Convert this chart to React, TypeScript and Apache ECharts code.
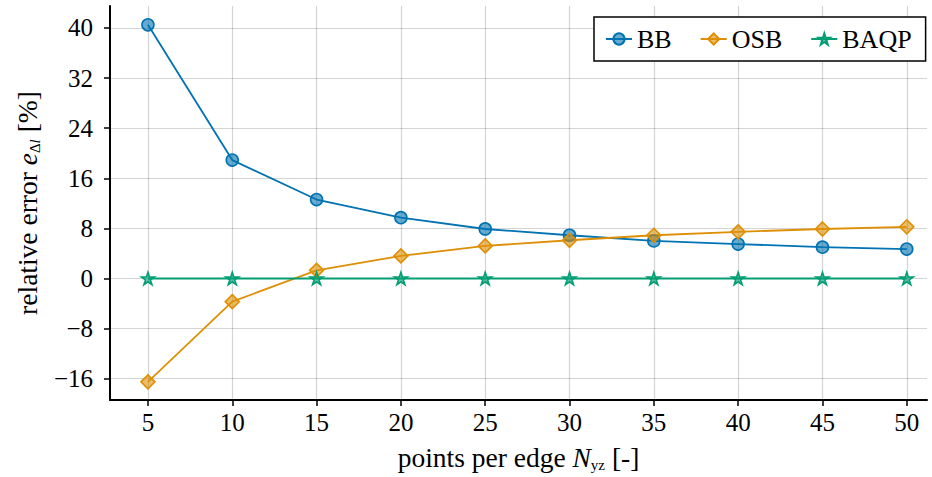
import React, { useEffect, useRef } from "react";
import * as echarts from "echarts";

const nValues = [5, 10, 15, 20, 25, 30, 35, 40, 45, 50];
const bbValues = [40.5, 18.9, 12.6, 9.7, 7.9, 6.9, 6.0, 5.5, 5.0, 4.7];
const osbValues = [-16.5, -3.7, 1.3, 3.6, 5.2, 6.1, 6.9, 7.45, 7.9, 8.25];
const baqpValues = [0, 0, 0, 0, 0, 0, 0, 0, 0, 0];
const yTicks = [-16, -8, 0, 8, 16, 24, 32, 40];
const xTicks = [5, 10, 15, 20, 25, 30, 35, 40, 45, 50];

const FONT = "'Liberation Serif', 'DejaVu Serif', serif";
const STAR =
  "path://M100 0 L122.45 69.1 L195.1 69.1 L136.33 111.8 L158.8 180.9 L100 138.2 L41.2 180.9 L63.67 111.8 L4.9 69.1 L77.55 69.1 Z";

const fmt = (v: number) => (v < 0 ? "\u2212" + Math.abs(v) : String(v));

export default function App() {
  const ref = useRef<HTMLDivElement>(null);
  useEffect(() => {
    if (!ref.current) return;
    const chart = echarts.init(ref.current, null, { renderer: "svg" });
    const mk = (name: string, data: number[], color: string, fill: string, symbol: string, size: number) => ({
      name,
      type: "line",
      data: nValues.map((n, i) => [n, data[i]]),
      symbol,
      symbolSize: size,
      symbolKeepAspect: true,
      showSymbol: true,
      showAllSymbol: true,
      lineStyle: { color, width: 1.8 },
      itemStyle: { color: fill, borderColor: color, borderWidth: 1.6 },
      emphasis: { disabled: true },
    });
    const axisNameRich = {
      n: { fontFamily: FONT, fontSize: 27.5, color: "#000", lineHeight: 30, verticalAlign: "middle" },
      i: { fontFamily: FONT, fontSize: 27.5, fontStyle: "italic", color: "#000", lineHeight: 30, verticalAlign: "middle" },
      s: { fontFamily: FONT, fontSize: 15, color: "#000", lineHeight: 15, verticalAlign: "bottom" },
      si: { fontFamily: FONT, fontSize: 15, fontStyle: "italic", color: "#000", lineHeight: 15, verticalAlign: "bottom" },
    };
    chart.setOption({
      animation: false,
      backgroundColor: "#fff",
      grid: { left: 110, top: 6, right: 5, bottom: 77, containLabel: false },
      legend: {
        left: 594,
        top: 17,
        padding: [9, 14, 9, 11],
        itemGap: 28,
        itemWidth: 26,
        itemHeight: 14,
        borderColor: "#000",
        borderWidth: 1.5,
        borderRadius: 0,
        backgroundColor: "#fff",
        textStyle: { fontFamily: FONT, fontSize: 26, color: "#000" },
        data: ["BB", "OSB", "BAQP"],
      },
      xAxis: {
        type: "value",
        min: 2.75,
        max: 51.2,
        name: "{n|points per edge }{i|N}{s|yz}{n| [-]}",
        nameLocation: "middle",
        nameGap: 42,
        nameTextStyle: { rich: axisNameRich },
        axisLine: { show: true, onZero: false, lineStyle: { color: "#000", width: 2 } },
        axisTick: { show: true, inside: false, length: 6, lineStyle: { color: "#000", width: 1.5 }, customValues: xTicks },
        axisLabel: { fontFamily: FONT, fontSize: 25, color: "#000", margin: 10, customValues: xTicks, formatter: fmt },
        splitLine: { show: true, lineStyle: { color: "rgba(0,0,0,0.17)", width: 1.2 } },
      },
      yAxis: {
        type: "value",
        min: -19.4,
        max: 43.5,
        name: "{n|relative error }{i|e}{s|\u0394}{si|l}{n| [%]}",
        nameLocation: "middle",
        nameGap: 68,
        nameRotate: 90,
        nameTextStyle: { rich: axisNameRich },
        axisLine: { show: true, onZero: false, lineStyle: { color: "#000", width: 2 } },
        axisTick: { show: true, inside: false, length: 6, lineStyle: { color: "#000", width: 1.5 }, customValues: yTicks },
        axisLabel: { fontFamily: FONT, fontSize: 25, color: "#000", margin: 17, customValues: yTicks, formatter: fmt },
        splitLine: { show: true, lineStyle: { color: "rgba(0,0,0,0.17)", width: 1.2 } },
      },
      series: [
        mk("BB", bbValues, "#0173b2", "rgba(1,115,178,0.6)", "circle", 12),
        mk("OSB", osbValues, "#de8f05", "rgba(222,143,5,0.6)", "diamond", 14),
        mk("BAQP", baqpValues, "#029e73", "rgba(2,158,115,0.6)", STAR, 13),
      ],
    });
    return () => chart.dispose();
  }, []);
  return <div ref={ref} style={{ width: 932, height: 477, position: "absolute", left: 0, top: 0 }} />;
}
